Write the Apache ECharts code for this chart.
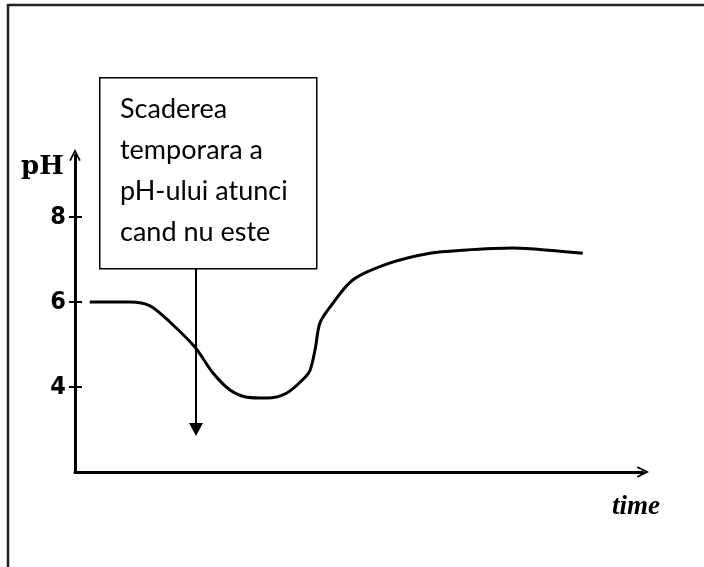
<!DOCTYPE html>
<html>
<head>
<meta charset="utf-8">
<script src="https://cdn.jsdelivr.net/npm/echarts@6/dist/echarts.min.js"></script>
<style>
html,body{margin:0;padding:0;background:#fff;}
#chart{width:704px;height:567px;}
</style>
</head>
<body>
<div id="chart"></div>
<script>
// Data
const timeValues = [2.6, 9.7, 13.2, 16.7, 21.1, 24.3, 27.3, 30.3, 33.8, 37.3, 40.3, 41.4, 42.3, 43.1, 44.9, 48.9, 55.5, 62.5, 68.3, 77.1, 84.9, 89.4];
const phValues   = [6.0, 6.0, 5.91, 5.53, 4.94, 4.33, 3.93, 3.76, 3.74, 3.86, 4.2, 4.4, 4.9, 5.5, 5.88, 6.52, 6.92, 7.15, 7.22, 7.27, 7.2, 7.15];
const yTickValues = [4, 6, 8];
const yAxisName = 'pH';
const xAxisName = 'time';
const noteLines = ['Scaderea', 'temporara a', 'pH-ului atunci', 'cand nu este'];

const chevron = 'path://M0,10 L5,0 L10,10 L8.6,10.6 L5,3.2 L1.4,10.6 Z';

const chart = echarts.init(document.getElementById('chart'), null, {renderer: 'canvas'});
const seriesData = timeValues.map((t, i) => [t, phValues[i]]);

const option = {
  animation: false,
  backgroundColor: '#fff',
  grid: {left: 75, right: 61, top: 155, bottom: 95},
  xAxis: {
    type: 'value', min: 0, max: 100,
    splitLine: {show: false},
    axisTick: {show: false},
    axisLabel: {show: false},
    axisLine: {show: true, lineStyle: {color: '#000', width: 3}, symbol: ['none', chevron], symbolSize: [14, 12], symbolOffset: [0, 0]}
  },
  yAxis: [{
    type: 'value', min: 2, max: 9.46,
    splitLine: {show: false},
    axisLine: {show: true, onZero: false, lineStyle: {color: '#000', width: 3}, symbol: ['none', chevron], symbolSize: [13, 12]},
    axisTick: {show: true, length: 6, customValues: yTickValues, lineStyle: {color: '#000', width: 2}},
    axisLabel: {show: true, customValues: yTickValues, margin: 9, textStyle: {color: '#000', fontSize: 25, fontWeight: 'bold', fontFamily: 'DejaVu Sans Condensed'}, color: '#000', fontSize: 25, fontWeight: 'bold', fontFamily: 'DejaVu Sans Condensed'}
  }, {
    type: 'value', min: 2, max: 9.46, position: 'left',
    splitLine: {show: false},
    axisLine: {show: true, onZero: false, lineStyle: {color: 'rgba(0,0,0,0)', width: 1}},
    axisTick: {show: true, inside: true, length: 7, customValues: yTickValues, lineStyle: {color: '#000', width: 2}},
    axisLabel: {show: false}
  }],
  series: [{
    type: 'line',
    data: seriesData,
    smooth: 0.3,
    showSymbol: false,
    lineStyle: {color: '#000', width: 3}
  }],
  graphic: [
    {type: 'polyline', shape: {points: [[8, 600], [8, 5], [720, 5]]}, style: {fill: 'none', stroke: '#222', lineWidth: 2.5}, z: 1},
    {type: 'text', left: 21, top: 154, style: {text: yAxisName, font: 'bold 26px "DejaVu Serif"', fill: '#000'}},
    {type: 'text', left: 612, top: 494, style: {text: xAxisName, font: 'italic bold 27px "Liberation Serif"', fill: '#000'}},
    {type: 'rect', left: 99, top: 77, shape: {width: 217, height: 191}, style: {fill: '#fff', stroke: '#000', lineWidth: 1.5}, z: 10},
    {type: 'text', left: 120, top: 89, z: 11, style: {text: noteLines.join('\n'), font: '27px Lato', lineHeight: 41, fill: '#000'}},
    {type: 'line', shape: {x1: 196, y1: 268, x2: 196, y2: 424}, style: {stroke: '#000', lineWidth: 2}, z: 10},
    {type: 'polygon', shape: {points: [[189, 423], [203, 423], [196, 436]]}, style: {fill: '#000'}, z: 10}
  ]
};
chart.setOption(option);
</script>
</body>
</html>
